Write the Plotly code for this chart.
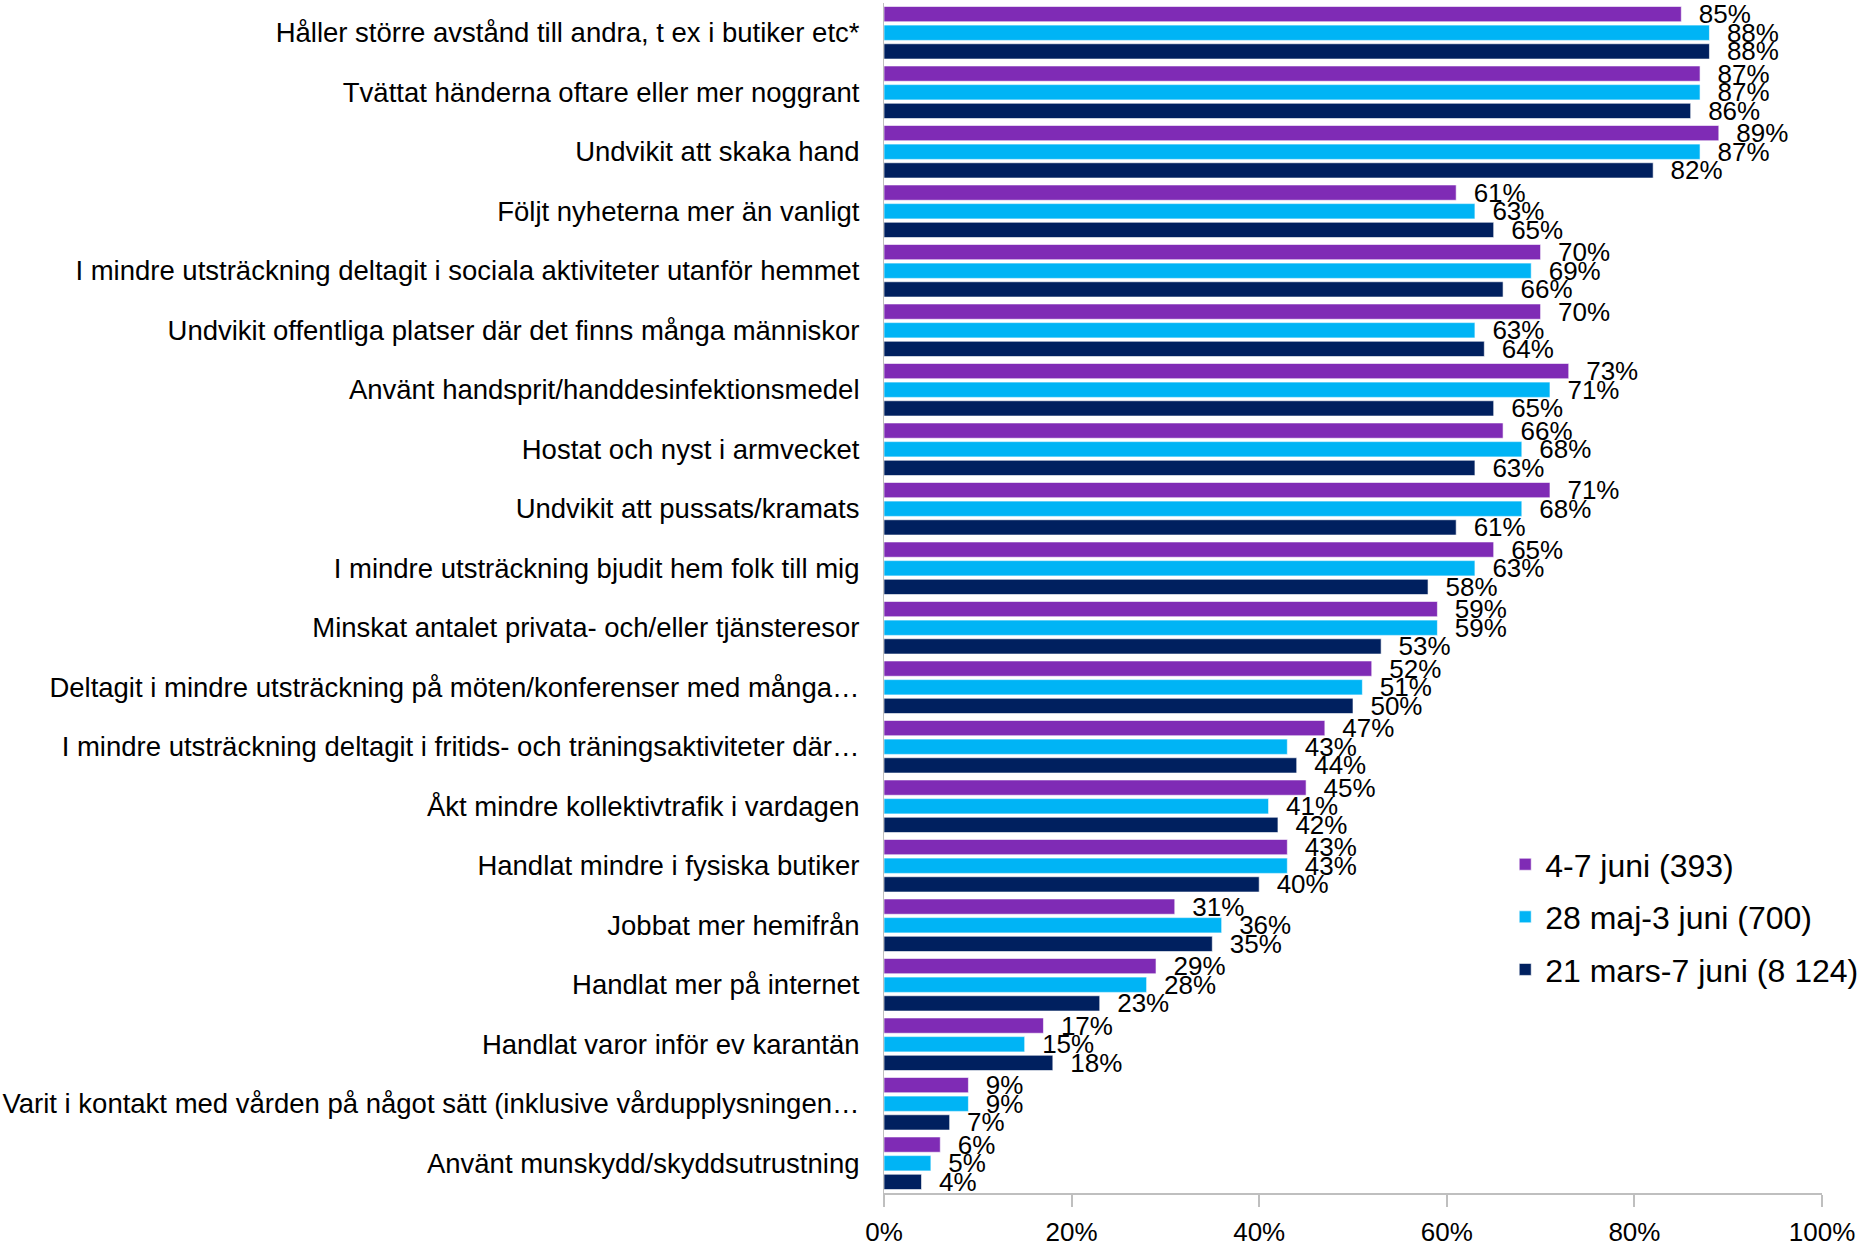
import plotly.graph_objects as go

categories = [
    "Håller större avstånd till andra, t ex i butiker etc*",
    "Tvättat händerna oftare eller mer noggrant",
    "Undvikit att skaka hand",
    "Följt nyheterna mer än vanligt",
    "I mindre utsträckning deltagit i sociala aktiviteter utanför hemmet",
    "Undvikit offentliga platser där det finns många människor",
    "Använt handsprit/handdesinfektionsmedel",
    "Hostat och nyst i armvecket",
    "Undvikit att pussats/kramats",
    "I mindre utsträckning bjudit hem folk till mig",
    "Minskat antalet privata- och/eller tjänsteresor",
    "Deltagit i mindre utsträckning på möten/konferenser med många…",
    "I mindre utsträckning deltagit i fritids- och träningsaktiviteter där…",
    "Åkt mindre kollektivtrafik i vardagen",
    "Handlat mindre i fysiska butiker",
    "Jobbat mer hemifrån",
    "Handlat mer på internet",
    "Handlat varor inför ev karantän",
    "Varit i kontakt med vården på något sätt (inklusive vårdupplysningen…",
    "Använt munskydd/skyddsutrustning",
]

series_names = ["4-7 juni (393)", "28 maj-3 juni (700)", "21 mars-7 juni (8 124)"]
juni_4_7 = [85, 87, 89, 61, 70, 70, 73, 66, 71, 65, 59, 52, 47, 45, 43, 31, 29, 17, 9, 6]
maj28_juni3 = [88, 87, 87, 63, 69, 63, 71, 68, 68, 63, 59, 51, 43, 41, 43, 36, 28, 15, 9, 5]
mars21_juni7 = [88, 86, 82, 65, 66, 64, 65, 63, 61, 58, 53, 50, 44, 42, 40, 35, 23, 18, 7, 4]
colors = ["#7F2BB5", "#00B4F5", "#00205F"]

tick_vals = [0, 20, 40, 60, 80, 100]
tick_text = ["0%", "20%", "40%", "60%", "80%", "100%"]

FONT = "Liberation Sans, Arial, sans-serif"

fig = go.Figure()
for i, (name, vals, col) in enumerate(zip(series_names, [juni_4_7, maj28_juni3, mars21_juni7], colors)):
    fig.add_trace(go.Bar(
        y=categories, x=vals, name=name, orientation="h",
        legendgroup=f"g{i}",
        marker=dict(color=col, line=dict(color="rgba(255,255,255,0.6)", width=1)),
        text=[f"  {v}%" for v in vals], textposition="outside",
        constraintext="none",
        textfont=dict(family=FONT, size=26, color="#000000"),
        cliponaxis=False,
    ))

fig.update_layout(
    width=1870, height=1246,
    barmode="group", bargap=0.06, bargroupgap=0.18,
    plot_bgcolor="white", paper_bgcolor="white",
    margin=dict(l=884, r=48, t=3, b=53),
    font=dict(family=FONT, size=27, color="#000000"),
    legend=dict(
        x=1.045, xanchor="right", y=0.232, yanchor="middle",
        font=dict(family=FONT, size=32, color="#000000"),
        traceorder="grouped", itemwidth=30, tracegroupgap=8,
        bgcolor="rgba(0,0,0,0)",
    ),
    xaxis=dict(
        range=[0, 100], tickvals=tick_vals, ticktext=tick_text,
        showgrid=False, zeroline=False, showline=True, linecolor="#BFBFBF", linewidth=2,
        ticks="outside", ticklen=12, tickcolor="#BFBFBF", tickwidth=2,
        ticklabelstandoff=3, automargin=False,
        tickfont=dict(family=FONT, size=26, color="#000000"),
    ),
    yaxis=dict(
        autorange="reversed", showgrid=False, zeroline=False,
        showline=True, linecolor="#BFBFBF", linewidth=1,
        ticks="", ticklabelstandoff=18, automargin=False,
        tickfont=dict(family=FONT, size=27.5, color="#000000"),
    ),
)

fig.write_html("out.html", post_script="document.body.style.margin='0';",
               config={"displayModeBar": False})
